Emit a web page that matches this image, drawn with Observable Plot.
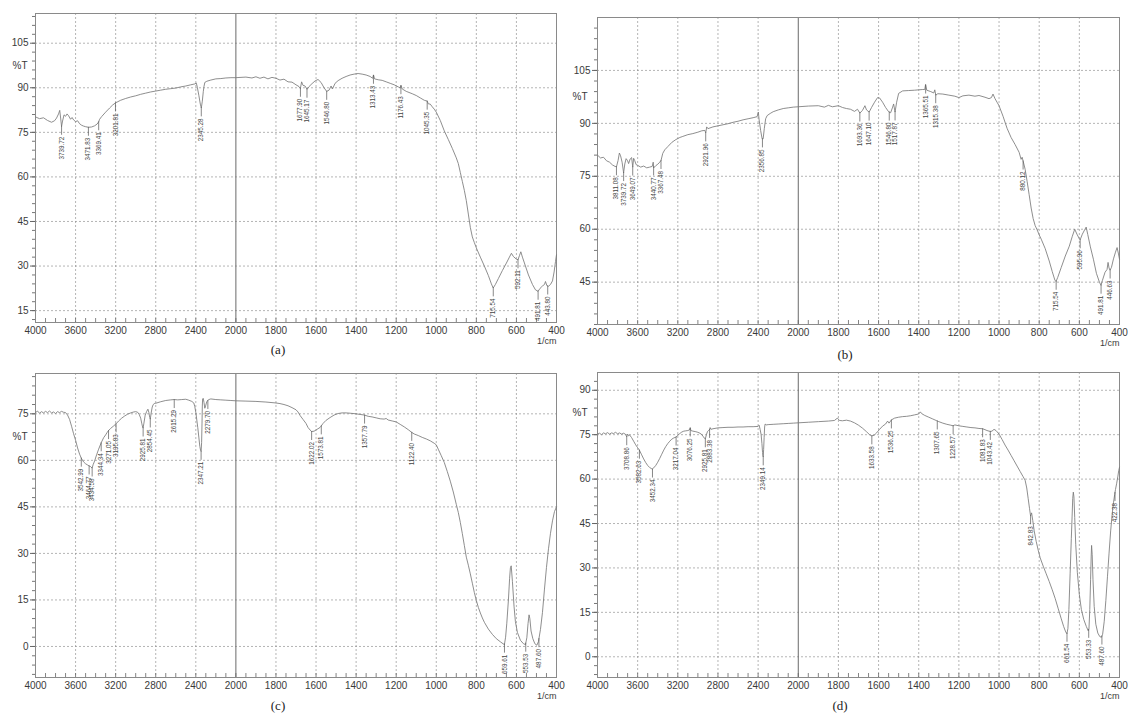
<!DOCTYPE html>
<html><head><meta charset="utf-8">
<script src="https://cdn.jsdelivr.net/npm/d3@7"></script>
<script src="https://cdn.jsdelivr.net/npm/@observablehq/plot@0.6"></script>
<style>
body{margin:0;background:#fff;}
#root{position:relative;width:1128px;height:716px;overflow:hidden;background:#fff;font-family:"Liberation Sans",Arial,sans-serif;}
.panel{position:absolute;}
.cap{position:absolute;font-family:"Liberation Serif","Times New Roman",serif;font-size:13px;color:#222;transform:translateX(-50%);}
</style></head><body><div id="root"></div>
<script>
const xTicks = [4000,3600,3200,2800,2400,2000,1800,1600,1400,1200,1000,800,600,400];

const yTicksA = [15,30,45,60,75,90,105];
const yTicksB = [45,60,75,90,105];
const yTicksC = [0,15,30,45,60,75];
const yTicksD = [0,15,30,45,60,75,90];

const spectrumA = [[4000,80.2],[3960,79.6],[3920,79.9],[3880,79.0],[3840,78.4],[3810,78.9],[3790,79.8],[3770,81.2],[3758,82.4],[3748,79.5],[3740,77.0],[3730,78.8],[3715,80.9],[3700,80.4],[3685,81.2],[3670,80.6],[3650,79.4],[3635,80.0],[3620,79.2],[3600,78.6],[3580,78.9],[3560,77.9],[3540,77.4],[3520,77.1],[3500,76.9],[3472,76.7],[3440,76.8],[3410,77.2],[3385,77.8],[3370,78.5],[3360,79.4],[3340,80.3],[3300,81.8],[3260,83.2],[3230,84.2],[3202,84.9],[3150,85.8],[3100,86.4],[3050,86.9],[3000,87.3],[2950,87.8],[2900,88.2],[2850,88.6],[2800,88.9],[2750,89.2],[2700,89.5],[2650,89.7],[2600,89.9],[2550,90.3],[2500,90.6],[2450,91.0],[2410,91.3],[2395,91.6],[2385,90.2],[2370,87.5],[2355,84.5],[2345,83.2],[2335,85.5],[2325,88.8],[2318,90.5],[2310,91.8],[2290,92.2],[2250,92.6],[2200,93.0],[2150,93.1],[2100,93.3],[2050,93.4],[2000,93.4],[1950,93.6],[1920,93.3],[1900,93.7],[1880,93.2],[1860,93.6],[1840,93.0],[1820,93.5],[1800,93.2],[1780,92.6],[1760,92.9],[1740,92.0],[1720,91.9],[1700,91.0],[1685,90.4],[1678,89.8],[1672,92.0],[1665,90.8],[1655,90.6],[1645,89.5],[1635,90.4],[1620,91.4],[1605,92.3],[1590,92.8],[1575,91.8],[1560,90.0],[1547,88.8],[1535,89.2],[1525,90.6],[1518,89.6],[1505,91.5],[1490,92.4],[1470,93.2],[1450,93.8],[1430,94.3],[1410,94.6],[1390,94.8],[1370,94.6],[1350,94.3],[1330,93.8],[1318,93.2],[1313,94.3],[1308,93.0],[1290,92.7],[1270,92.5],[1250,92.0],[1230,91.5],[1210,91.0],[1190,90.3],[1180,90.0],[1176,90.8],[1170,89.6],[1150,88.8],[1120,88.0],[1100,87.4],[1080,86.6],[1060,85.8],[1045,85.5],[1040,84.6],[1030,84.5],[1020,83.6],[1010,82.8],[1000,81.8],[980,79.0],[960,75.5],[940,72.6],[920,69.6],[900,66.4],[890,64.5],[880,61.5],[870,58.5],[860,55.5],[850,52.0],[840,47.5],[830,43.0],[820,39.8],[810,37.9],[800,36.1],[780,33.0],[760,30.0],[740,26.8],[725,24.0],[716,22.6],[705,23.8],[690,25.8],[670,28.5],[650,31.0],[635,33.0],[625,34.3],[615,33.2],[600,32.3],[592,32.1],[585,33.5],[578,34.8],[570,33.0],[555,30.0],[540,27.0],[520,23.8],[505,22.0],[492,21.5],[482,22.5],[470,23.3],[460,23.8],[455,24.8],[448,23.4],[440,23.2],[430,23.8],[420,25.0],[412,28.0],[405,31.5],[400,33.8]];

const spectrumB = [[4000,81.0],[3970,80.2],[3940,80.4],[3910,79.4],[3880,79.0],[3850,78.2],[3825,77.8],[3811,77.7],[3795,79.5],[3782,81.6],[3770,80.8],[3755,79.0],[3740,76.0],[3728,78.5],[3715,80.0],[3700,79.4],[3690,78.6],[3675,79.9],[3660,80.3],[3649,77.6],[3640,80.1],[3630,79.5],[3615,78.3],[3600,78.1],[3570,77.6],[3540,77.9],[3510,77.4],[3480,77.6],[3455,77.8],[3445,79.0],[3440,77.4],[3420,78.0],[3400,78.4],[3380,79.0],[3367,79.5],[3350,81.5],[3330,82.5],[3300,83.4],[3260,84.6],[3220,85.4],[3180,86.0],[3150,86.3],[3100,86.8],[3050,87.1],[3000,87.5],[2960,87.9],[2930,88.0],[2922,87.3],[2912,89.0],[2900,88.5],[2850,89.0],[2800,89.3],[2750,89.6],[2700,89.9],[2650,90.3],[2600,90.6],[2550,91.0],[2500,91.3],[2450,91.6],[2410,91.9],[2398,93.2],[2390,91.0],[2375,88.0],[2360,85.6],[2350,85.6],[2338,88.6],[2325,91.3],[2310,92.2],[2280,92.8],[2250,93.3],[2200,93.8],[2150,94.2],[2100,94.4],[2050,94.6],[2000,94.7],[1950,94.9],[1900,95.0],[1870,94.6],[1850,95.1],[1830,94.7],[1800,95.0],[1780,94.5],[1760,94.2],[1740,94.0],[1720,93.4],[1705,94.0],[1693,92.9],[1680,93.7],[1668,95.0],[1660,93.8],[1647,93.2],[1635,94.5],[1620,96.0],[1605,97.3],[1595,97.2],[1580,96.0],[1565,94.5],[1550,93.3],[1540,93.0],[1530,94.6],[1525,95.5],[1518,93.2],[1510,96.0],[1500,98.5],[1480,99.2],[1450,99.3],[1420,99.4],[1400,99.5],[1380,99.6],[1370,99.6],[1366,101.0],[1360,99.4],[1340,99.0],[1325,98.6],[1320,99.5],[1315,98.0],[1305,98.4],[1280,98.3],[1250,98.0],[1220,97.7],[1200,97.3],[1180,97.8],[1150,98.0],[1120,97.7],[1100,97.9],[1070,97.4],[1050,97.0],[1038,97.3],[1030,98.3],[1020,97.0],[1010,96.0],[1000,95.0],[980,92.0],[960,88.6],[940,86.0],[920,84.0],[900,81.8],[890,79.8],[885,80.4],[880,79.3],[870,77.0],[860,73.5],[850,69.8],[840,66.0],[830,63.0],[820,61.0],[810,59.8],[800,58.4],[790,57.2],[770,54.5],[750,51.0],[735,48.0],[722,45.6],[716,45.2],[708,46.3],[690,49.2],[670,52.4],[650,55.2],[635,58.0],[623,60.0],[612,58.6],[600,57.3],[596,57.0],[585,58.6],[572,60.0],[566,60.6],[558,58.5],[545,55.0],[530,51.5],[515,47.5],[500,45.0],[492,44.1],[485,45.5],[472,47.8],[462,48.6],[457,50.6],[452,49.0],[447,48.4],[440,49.2],[430,51.6],[420,53.5],[412,54.8],[405,53.0],[400,51.5]];

const spectrumC = [[4000,75.4],[3980,75.9],[3960,75.2],[3940,75.7],[3920,75.3],[3900,75.8],[3880,75.4],[3860,75.9],[3840,75.3],[3820,75.6],[3800,75.1],[3780,75.7],[3760,75.4],[3740,75.8],[3720,75.5],[3700,75.4],[3680,74.6],[3660,73.2],[3640,71.0],[3620,68.6],[3600,66.5],[3580,64.0],[3560,62.0],[3543,60.7],[3520,59.5],[3500,58.9],[3480,58.5],[3465,58.2],[3450,58.0],[3435,57.5],[3425,58.6],[3410,59.8],[3390,61.8],[3370,63.6],[3344,65.7],[3320,67.3],[3300,68.2],[3285,69.0],[3271,69.6],[3250,70.3],[3220,71.1],[3196,71.8],[3170,72.7],[3140,73.6],[3110,74.3],[3080,74.9],[3050,75.3],[3020,75.6],[3000,75.7],[2980,75.5],[2965,74.8],[2950,73.6],[2940,72.0],[2930,70.6],[2926,70.4],[2918,72.0],[2905,74.6],[2890,75.8],[2878,76.5],[2868,75.4],[2860,73.8],[2854,73.3],[2846,75.2],[2835,77.2],[2825,78.0],[2815,78.3],[2800,78.4],[2750,78.9],[2700,79.3],[2650,79.5],[2615,79.6],[2580,79.5],[2540,79.6],[2500,79.7],[2470,79.4],[2440,79.0],[2420,78.5],[2410,77.3],[2400,75.5],[2390,73.0],[2380,70.5],[2370,67.5],[2360,64.5],[2352,63.2],[2347,62.9],[2342,65.8],[2338,72.0],[2335,77.5],[2332,79.8],[2326,80.0],[2318,78.6],[2310,76.8],[2300,77.8],[2290,79.0],[2280,79.3],[2270,79.6],[2250,79.8],[2200,79.6],[2150,79.5],[2100,79.4],[2050,79.3],[2000,79.2],[1950,79.1],[1900,79.0],[1850,78.8],[1800,78.5],[1780,78.3],[1760,78.0],[1740,77.6],[1720,77.0],[1700,76.3],[1690,75.6],[1680,74.5],[1665,73.2],[1650,71.9],[1640,70.6],[1630,69.8],[1622,69.3],[1610,69.4],[1595,70.0],[1580,70.6],[1574,71.1],[1565,71.9],[1550,72.9],[1530,73.8],[1510,74.6],[1490,75.1],[1470,75.3],[1450,75.3],[1430,75.2],[1400,75.0],[1380,74.8],[1358,74.6],[1340,74.2],[1320,74.0],[1300,73.7],[1280,73.4],[1260,73.3],[1250,73.5],[1240,73.0],[1220,72.7],[1200,72.4],[1180,71.6],[1160,70.8],[1140,69.9],[1122,69.0],[1110,68.5],[1090,68.0],[1070,67.4],[1050,66.9],[1030,66.3],[1010,65.5],[1000,65.0],[990,63.6],[975,61.5],[960,59.3],[945,56.4],[930,53.3],[915,49.8],[900,45.8],[890,43.2],[880,40.0],[870,36.4],[860,32.6],[850,28.8],[840,26.2],[830,23.4],[820,20.4],[810,17.4],[800,14.8],[790,12.6],[780,10.8],[770,9.2],[760,7.8],[740,5.6],[720,3.9],[700,2.5],[680,1.5],[667,0.9],[660,0.6],[654,3.0],[648,7.5],[640,15.0],[634,22.0],[630,25.4],[626,26.0],[620,21.0],[612,13.0],[605,8.0],[595,4.5],[580,2.0],[565,0.9],[555,0.6],[548,2.8],[542,7.4],[537,10.2],[533,9.0],[527,5.0],[518,2.5],[508,0.9],[498,0.4],[490,1.6],[480,5.5],[470,11.0],[460,18.5],[450,25.5],[440,31.5],[430,36.5],[420,40.5],[410,43.5],[400,45.0]];

const spectrumD = [[4000,75.2],[3980,75.5],[3960,75.0],[3940,75.6],[3920,75.3],[3900,75.7],[3880,75.2],[3860,75.6],[3840,75.4],[3820,75.8],[3800,75.3],[3780,75.6],[3760,75.2],[3740,75.5],[3720,75.1],[3709,74.3],[3700,75.2],[3690,74.6],[3680,74.9],[3660,74.0],[3640,72.8],[3620,71.6],[3600,70.6],[3583,69.8],[3560,68.2],[3540,66.8],[3520,65.6],[3500,64.6],[3480,63.9],[3460,63.5],[3452,63.4],[3440,63.8],[3420,64.6],[3400,65.7],[3380,67.0],[3360,68.4],[3340,69.8],[3320,71.0],[3300,72.0],[3280,72.8],[3260,73.5],[3240,73.9],[3217,74.2],[3200,74.8],[3180,75.4],[3160,75.9],[3140,76.2],[3120,76.3],[3100,76.4],[3085,76.6],[3076,77.3],[3070,76.4],[3050,76.2],[3020,76.0],[3000,75.8],[2980,75.5],[2960,75.0],[2945,74.3],[2935,73.8],[2926,73.6],[2915,75.0],[2905,76.0],[2895,76.4],[2883,76.8],[2878,77.4],[2870,76.8],[2850,77.0],[2800,77.3],[2750,77.4],[2700,77.5],[2650,77.5],[2600,77.6],[2550,77.6],[2500,77.7],[2450,77.7],[2400,77.8],[2390,78.2],[2380,76.8],[2370,75.0],[2362,72.0],[2356,69.0],[2352,67.8],[2349,67.5],[2345,70.0],[2340,74.0],[2335,77.6],[2330,78.6],[2320,78.3],[2300,78.4],[2250,78.5],[2200,78.6],[2150,78.7],[2100,78.8],[2050,78.9],[2000,79.0],[1950,79.2],[1900,79.4],[1850,79.6],[1820,79.8],[1805,80.6],[1795,79.8],[1780,79.7],[1760,79.9],[1740,79.6],[1720,79.0],[1700,78.2],[1680,77.2],[1660,76.0],[1645,75.0],[1634,74.6],[1622,74.8],[1610,75.6],[1595,76.8],[1580,77.9],[1565,78.6],[1555,79.6],[1548,78.9],[1536,80.0],[1520,80.6],[1500,80.9],[1480,81.1],[1460,81.2],[1440,81.4],[1420,81.7],[1400,82.0],[1392,82.7],[1385,82.1],[1370,81.5],[1350,80.9],[1330,80.3],[1310,79.7],[1300,79.4],[1280,78.9],[1260,78.5],[1240,78.2],[1229,78.0],[1220,78.3],[1200,78.0],[1180,77.8],[1160,77.6],[1140,77.4],[1120,77.3],[1100,77.1],[1082,77.0],[1070,76.7],[1060,76.4],[1050,76.2],[1043,76.1],[1035,76.2],[1025,76.8],[1015,76.4],[1000,75.2],[985,73.4],[970,71.5],[955,69.8],[940,68.0],[925,66.2],[910,64.4],[895,62.6],[880,60.8],[870,59.6],[862,57.0],[855,53.5],[848,50.0],[843,47.6],[838,48.6],[832,46.0],[825,42.5],[815,39.0],[805,36.0],[795,33.4],[780,30.6],[765,28.0],[750,25.4],[735,22.6],[720,19.6],[705,16.2],[690,12.8],[678,10.2],[668,8.4],[662,7.8],[657,9.5],[652,16.0],[646,28.0],[640,40.0],[636,47.5],[633,53.5],[630,55.6],[627,54.0],[623,47.0],[618,38.0],[610,28.5],[600,21.0],[590,16.0],[578,12.6],[565,10.2],[556,8.8],[552,9.5],[548,16.0],[544,26.0],[541,34.0],[539,37.6],[536,34.5],[532,26.0],[526,17.0],[518,11.0],[508,8.0],[498,6.8],[490,6.6],[484,7.6],[476,12.0],[468,19.0],[460,27.0],[452,35.0],[444,42.5],[436,48.5],[430,52.0],[424,54.8],[420,56.5],[414,58.6],[408,61.0],[404,62.8],[400,64.0]];

const peaksA = [3739.72,3471.83,3369.41,3201.81,2345.28,1677.90,1645.17,1546.80,1313.43,1176.43,1045.35,715.54,592.11,491.81,443.80];
const peaksB = [3811.08,3739.72,3649.07,3440.77,3367.48,2921.96,2356.85,1693.36,1647.10,1546.80,1517.87,1365.51,1315.38,880.12,715.54,595.96,491.81,446.63];
const peaksC = [3542.99,3464.77,3434.58,3344.34,3271.05,3195.83,2925.81,2854.45,2615.29,2347.21,2279.70,1622.02,1573.81,1357.79,1122.40,659.61,553.53,487.60];
const peaksD = [3708.86,3582.63,3452.34,3217.04,3076.25,2925.81,2883.38,2349.14,1633.58,1536.25,1307.65,1228.57,1081.83,1043.42,842.83,661.54,553.33,487.60,422.38];

const captions = ["(a)","(b)","(c)","(d)"];

function interp(spec, w){
  for (let i=0;i<spec.length-1;i++){
    const [w0,t0]=spec[i],[w1,t1]=spec[i+1];
    if (w<=w0 && w>=w1){ const f=(w0-w)/(w0-w1); return t0+f*(t1-t0); }
  }
  return spec[spec.length-1][1];
}

const layout = [
  {spec:spectrumA, peaks:peaksA, yTicks:yTicksA, yDomain:[11,115], left:0, top:0, width:564, height:348, mt:13, mb:26, ml:35, mr:8, capX:278, capY:342},
  {spec:spectrumB, peaks:peaksB, yTicks:yTicksB, yDomain:[33,120], left:560, top:0, width:568, height:350, mt:17, mb:26, ml:37, mr:9, capX:845, capY:347},
  {spec:spectrumC, peaks:peaksC, yTicks:yTicksC, yDomain:[-10,88], left:0, top:360, width:564, height:343, mt:13, mb:26, ml:35, mr:8, capX:278, capY:698},
  {spec:spectrumD, peaks:peaksD, yTicks:yTicksD, yDomain:[-7,96], left:560, top:360, width:568, height:343, mt:12, mb:26, ml:37, mr:9, capX:840, capY:698}
];

const root = document.getElementById("root");
layout.forEach((p, k) => {
  const x0 = p.ml, x1 = p.width - p.mr;
  const xRange = [x0, x0 + (x1 - x0) * 5 / 13, x1];
  const plotH = p.height - p.mt - p.mb;
  const ppu = plotH / (p.yDomain[1] - p.yDomain[0]);
  const lead = 9 / ppu, gap = 1.5 / ppu;
  const minorX = [...d3.range(4000, 2000, -100), ...d3.range(2000, 399, -50)];
  const minorY = d3.range(Math.ceil(p.yDomain[0] / 3) * 3, p.yDomain[1], 3);
  const ys = p.yTicks.slice().sort((a, b) => b - a);
  const pctY = (ys[0] + ys[1]) / 2;
  const peakData = p.peaks.map(w => ({w, t: interp(p.spec, w)}));
  const chart = Plot.plot({
    width: p.width, height: p.height,
    marginTop: p.mt, marginBottom: p.mb, marginLeft: p.ml, marginRight: p.mr,
    x: {type: "linear", domain: [4000, 2000, 400], range: xRange},
    y: {domain: p.yDomain},
    style: {fontFamily: '"Liberation Sans", Arial, sans-serif', fontSize: "10px", color: "#3a3a3a", background: "transparent", overflow: "visible"},
    marks: [
      Plot.gridX(xTicks.filter(d => d !== 2000), {stroke: "#8a8a8a", strokeOpacity: 0.8, strokeDasharray: "2,2", strokeWidth: 0.8}),
      Plot.gridY(p.yTicks, {stroke: "#8a8a8a", strokeOpacity: 0.8, strokeDasharray: "2,2", strokeWidth: 0.8}),
      Plot.ruleX([2000], {stroke: "#6a6a6a", strokeWidth: 1}),
      Plot.ruleX(minorX, {y1: p.yDomain[0], y2: p.yDomain[0] + 4 / ppu, stroke: "#666", strokeWidth: 0.8}),
      Plot.axisY(minorY, {tickSize: 3, tickFormat: () => "", label: null, stroke: "#777"}),
      Plot.axisY(p.yTicks, {tickSize: 5, tickPadding: 2, label: null, fontSize: 10, stroke: "#666", tickFormat: d => String(d)}),
      Plot.axisX(xTicks, {tickSize: 0, tickPadding: 4, label: null, fontSize: 10, tickFormat: d => String(d)}),
      Plot.frame({stroke: "#8a8a8a"}),
      Plot.line(p.spec, {x: d => d[0], y: d => d[1], stroke: "#7a7a7a", strokeWidth: 0.85}),
      Plot.ruleX(peakData, {x: "w", y1: "t", y2: d => d.t - lead, stroke: "#555", strokeWidth: 0.7}),
      Plot.text(peakData, {x: "w", y: d => d.t - lead - gap, text: d => d.w.toFixed(2), rotate: -90, textAnchor: "end", fontSize: 6.3, fill: "#444"}),
      Plot.text(["%T"], {frameAnchor: "left", y: [pctY], text: d => d, dx: -(p.ml - 12), textAnchor: "start", fontSize: 10, fill: "#3a3a3a"}),
      Plot.text(["1/cm"], {frameAnchor: "bottom-right", text: d => d, dy: 15, lineAnchor: "top", textAnchor: "end", fontSize: 9, fill: "#3a3a3a"})
    ]
  });
  const div = document.createElement("div");
  div.className = "panel";
  div.style.left = p.left + "px";
  div.style.top = p.top + "px";
  div.appendChild(chart);
  root.appendChild(div);
  const cap = document.createElement("div");
  cap.className = "cap";
  cap.style.left = p.capX + "px";
  cap.style.top = p.capY + "px";
  cap.textContent = captions[k];
  root.appendChild(cap);
});
</script>
</body></html>
